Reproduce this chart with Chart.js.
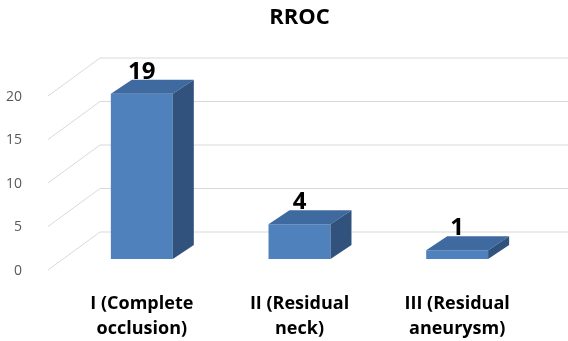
<!DOCTYPE html>
<html>
<head>
<meta charset="utf-8">
<script src="https://cdn.jsdelivr.net/npm/chart.js@4"></script>
<style>
  body { margin: 0; background: #fff; }
  #wrap { width: 568px; height: 341px; position: relative; }
</style>
</head>
<body>
<div id="wrap"><canvas id="rroc-chart"></canvas></div>
<script>
const categories = [['I (Complete', 'occlusion)'], ['II (Residual', 'neck)'], ['III (Residual', 'aneurysm)']];
const counts = [19, 4, 1];
const yMin = 0;
const yMax = 20;
const yStep = 5;

// fake 3d look, like the excel chart
const depthX = 21, depthY = -14;
const wallLeft = 48, wallBack = 100;

const box3d = {
  id: 'box3d',
  beforeDatasetsDraw(chart) {
    const ctx = chart.ctx;
    const y = chart.scales.y;
    ctx.save();
    ctx.strokeStyle = '#d9d9d9';
    ctx.lineWidth = 1;
    y.ticks.forEach(t => {
      const py = y.getPixelForValue(t.value);
      ctx.beginPath();
      ctx.moveTo(wallLeft, py + 11);
      ctx.lineTo(wallBack, py - 27);
      ctx.lineTo(chart.width, py - 27);
      ctx.stroke();
    });
    ctx.restore();
  },
  afterDatasetsDraw(chart) {
    const ctx = chart.ctx;
    ctx.save();
    chart.getDatasetMeta(0).data.forEach((bar, i) => {
      const l = bar.x - bar.width / 2, r = bar.x + bar.width / 2;
      // top face
      ctx.fillStyle = '#3f6a9f';
      ctx.beginPath();
      ctx.moveTo(l, bar.y);
      ctx.lineTo(r, bar.y);
      ctx.lineTo(r + depthX, bar.y + depthY);
      ctx.lineTo(l + depthX, bar.y + depthY);
      ctx.closePath();
      ctx.fill();
      // side face
      ctx.fillStyle = '#31527d';
      ctx.beginPath();
      ctx.moveTo(r, bar.y);
      ctx.lineTo(r + depthX, bar.y + depthY);
      ctx.lineTo(r + depthX, bar.base + depthY);
      ctx.lineTo(r, bar.base);
      ctx.closePath();
      ctx.fill();
      // value label
      ctx.fillStyle = '#000';
      ctx.font = 'bold 24px "Open Sans"';
      ctx.textAlign = 'center';
      ctx.textBaseline = 'middle';
      ctx.fillText(counts[i], bar.x, bar.y - 22);
    });
    ctx.restore();
  }
};

new Chart(document.getElementById('rroc-chart'), {
  type: 'bar',
  data: {
    labels: categories,
    datasets: [{
      data: counts,
      backgroundColor: '#4f81bd',
      borderWidth: 0,
      categoryPercentage: 1,
      barPercentage: 0.393
    }]
  },
  options: {
    responsive: true,
    maintainAspectRatio: false,
    animation: false,
    layout: { padding: { left: 0, right: 32, top: 0, bottom: 0 } },
    plugins: {
      legend: { display: false },
      tooltip: { enabled: false },
      title: {
        display: true,
        text: 'RROC',
        fullSize: false,
        color: '#000',
        font: { family: 'Open Sans', size: 22, weight: 'bold', lineHeight: 1.2 },
        padding: { top: 5, bottom: 53.6 }
      }
    },
    scales: {
      x: {
        grid: { display: false },
        border: { display: false },
        ticks: {
          color: '#000',
          padding: 24,
          maxRotation: 0,
          font: { family: 'Open Sans', size: 18, weight: 'bold', lineHeight: 1.39 }
        },
        afterFit: s => { s.height = 82; }
      },
      y: {
        min: yMin,
        max: yMax,
        grid: { display: false },
        border: { display: false },
        ticks: {
          stepSize: yStep,
          color: '#595959',
          padding: 33,
          labelOffset: 12,
          font: { family: 'Open Sans', size: 14 }
        },
        afterFit: s => { s.width = 63; }
      }
    }
  },
  plugins: [box3d]
});
</script>
</body>
</html>
